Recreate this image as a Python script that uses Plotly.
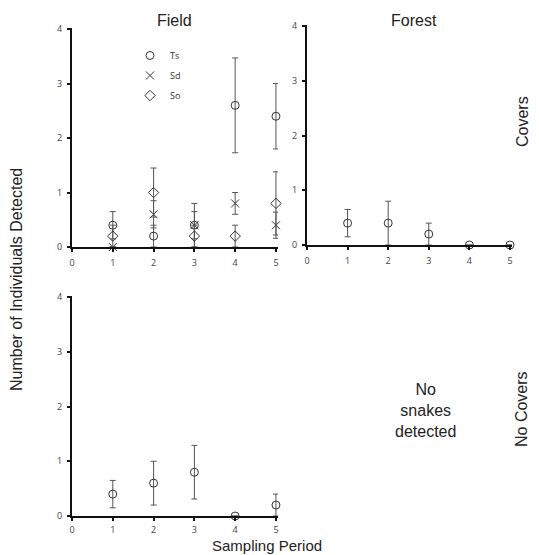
import plotly.graph_objects as go

periods = [1, 2, 3, 4, 5]

# Covers - Field
field_ts = [0.4, 0.2, 0.4, 2.6, 2.4]
field_ts_err = [0.25, 0.2, 0.4, 0.87, 0.6]
field_sd = [0.0, 0.6, 0.4, 0.8, 0.4]
field_sd_err = [0.0, 0.25, 0.25, 0.2, 0.24]
field_so = [0.2, 1.0, 0.2, 0.2, 0.8]
field_so_err = [0.2, 0.45, 0.2, 0.2, 0.58]

# Covers - Forest
forest_ts = [0.4, 0.4, 0.2, 0.0, 0.0]
forest_ts_err = [0.25, 0.4, 0.2, 0.0, 0.0]

# No covers - Field
nocov_ts = [0.4, 0.6, 0.8, 0.0, 0.2]
nocov_ts_err = [0.25, 0.4, 0.49, 0.0, 0.2]

x_ticks = [0, 1, 2, 3, 4, 5]
y_ticks = [0, 1, 2, 3, 4]

W, H = 539, 555
OFF = 8  # page body margin
mk_color = "#333333"
err_color = "#555555"


def px(xs):
    return (xs - OFF) / W


def py(ys):
    return 1 - (ys - OFF) / H


def trace(y, err, symbol, name, xa, ya, show):
    return go.Scatter(
        x=periods, y=y, mode="markers", name=name,
        xaxis=xa, yaxis=ya, showlegend=show, legendgroup=name,
        cliponaxis=False,
        marker=dict(symbol=symbol, size=8, color=mk_color,
                    line=dict(width=1, color=mk_color)),
        error_y=dict(type="data", array=err, visible=True,
                     color=err_color, thickness=1, width=3),
    )


fig = go.Figure()
fig.add_trace(trace(field_ts, field_ts_err, "circle-open", "Ts", "x", "y", True))
fig.add_trace(trace(field_sd, field_sd_err, "x-thin-open", "Sd", "x", "y", True))
fig.add_trace(trace(field_so, field_so_err, "diamond-open", "So", "x", "y", True))
fig.add_trace(trace(forest_ts, forest_ts_err, "circle-open", "Ts", "x2", "y2", False))
fig.add_trace(trace(nocov_ts, nocov_ts_err, "circle-open", "Ts", "x3", "y3", False))

tickfont = dict(family="Open Sans, Liberation Sans, Arial", size=9, color="#444444")


def xax(domain, anchor, standoff=3):
    return dict(domain=domain, anchor=anchor, range=[0, 5.05], tickvals=x_ticks,
                showgrid=False, zeroline=False, showline=True, linecolor="#111111",
                linewidth=2, ticks="outside", ticklen=3, tickwidth=1.5,
                tickcolor="#111111", tickfont=tickfont, fixedrange=True,
                automargin=False, ticklabelstandoff=standoff)


def yax(domain, anchor):
    return dict(domain=domain, anchor=anchor, range=[0, 4.02], tickvals=y_ticks,
                showgrid=False, zeroline=False, showline=True, linecolor="#111111",
                linewidth=2, ticks="outside", ticklen=3, tickwidth=1.5,
                tickcolor="#111111", tickfont=tickfont, fixedrange=True,
                automargin=False, ticklabelstandoff=3)


xd1 = [px(72), px(278)]
xd2 = [px(307), px(512)]
yd1 = [py(247), py(28)]
yd2 = [py(245), py(25)]
yd3 = [py(516), py(296)]

big = dict(family="Liberation Sans, Arial", size=16, color="#222222")


def ann(text, xs, ys, angle=0, size=16):
    return dict(text=text, x=px(xs), y=py(ys), xref="paper", yref="paper",
                xanchor="center", yanchor="middle",
                showarrow=False, font=dict(big, size=size), textangle=angle)


fig.update_layout(
    width=W, height=H,
    margin=dict(l=0, r=0, t=0, b=0, autoexpand=False),
    paper_bgcolor="white", plot_bgcolor="white",
    xaxis=xax(xd1, "y"), yaxis=yax(yd1, "x"),
    xaxis2=xax(xd2, "y2"), yaxis2=yax(yd2, "x2"),
    xaxis3=xax(xd1, "y3", standoff=1), yaxis3=yax(yd3, "x3"),
    legend=dict(x=px(130), y=py(41), xanchor="left", yanchor="top",
                bgcolor="rgba(0,0,0,0)",
                font=dict(family="Open Sans, Arial", size=9, color="#333333"),
                tracegroupgap=1, itemwidth=30),
    annotations=[
        ann("Field", 174, 21),
        ann("Forest", 414, 20),
        ann("Covers", 522, 122, -90),
        ann("No Covers", 522, 409, -90),
        ann("No<br>snakes<br>detected", 425, 410),
        ann("Number of Individuals Detected", 16, 280, -90),
        ann("Sampling Period", 267, 545, size=15),
    ],
)

fig.write_html("out.html")
